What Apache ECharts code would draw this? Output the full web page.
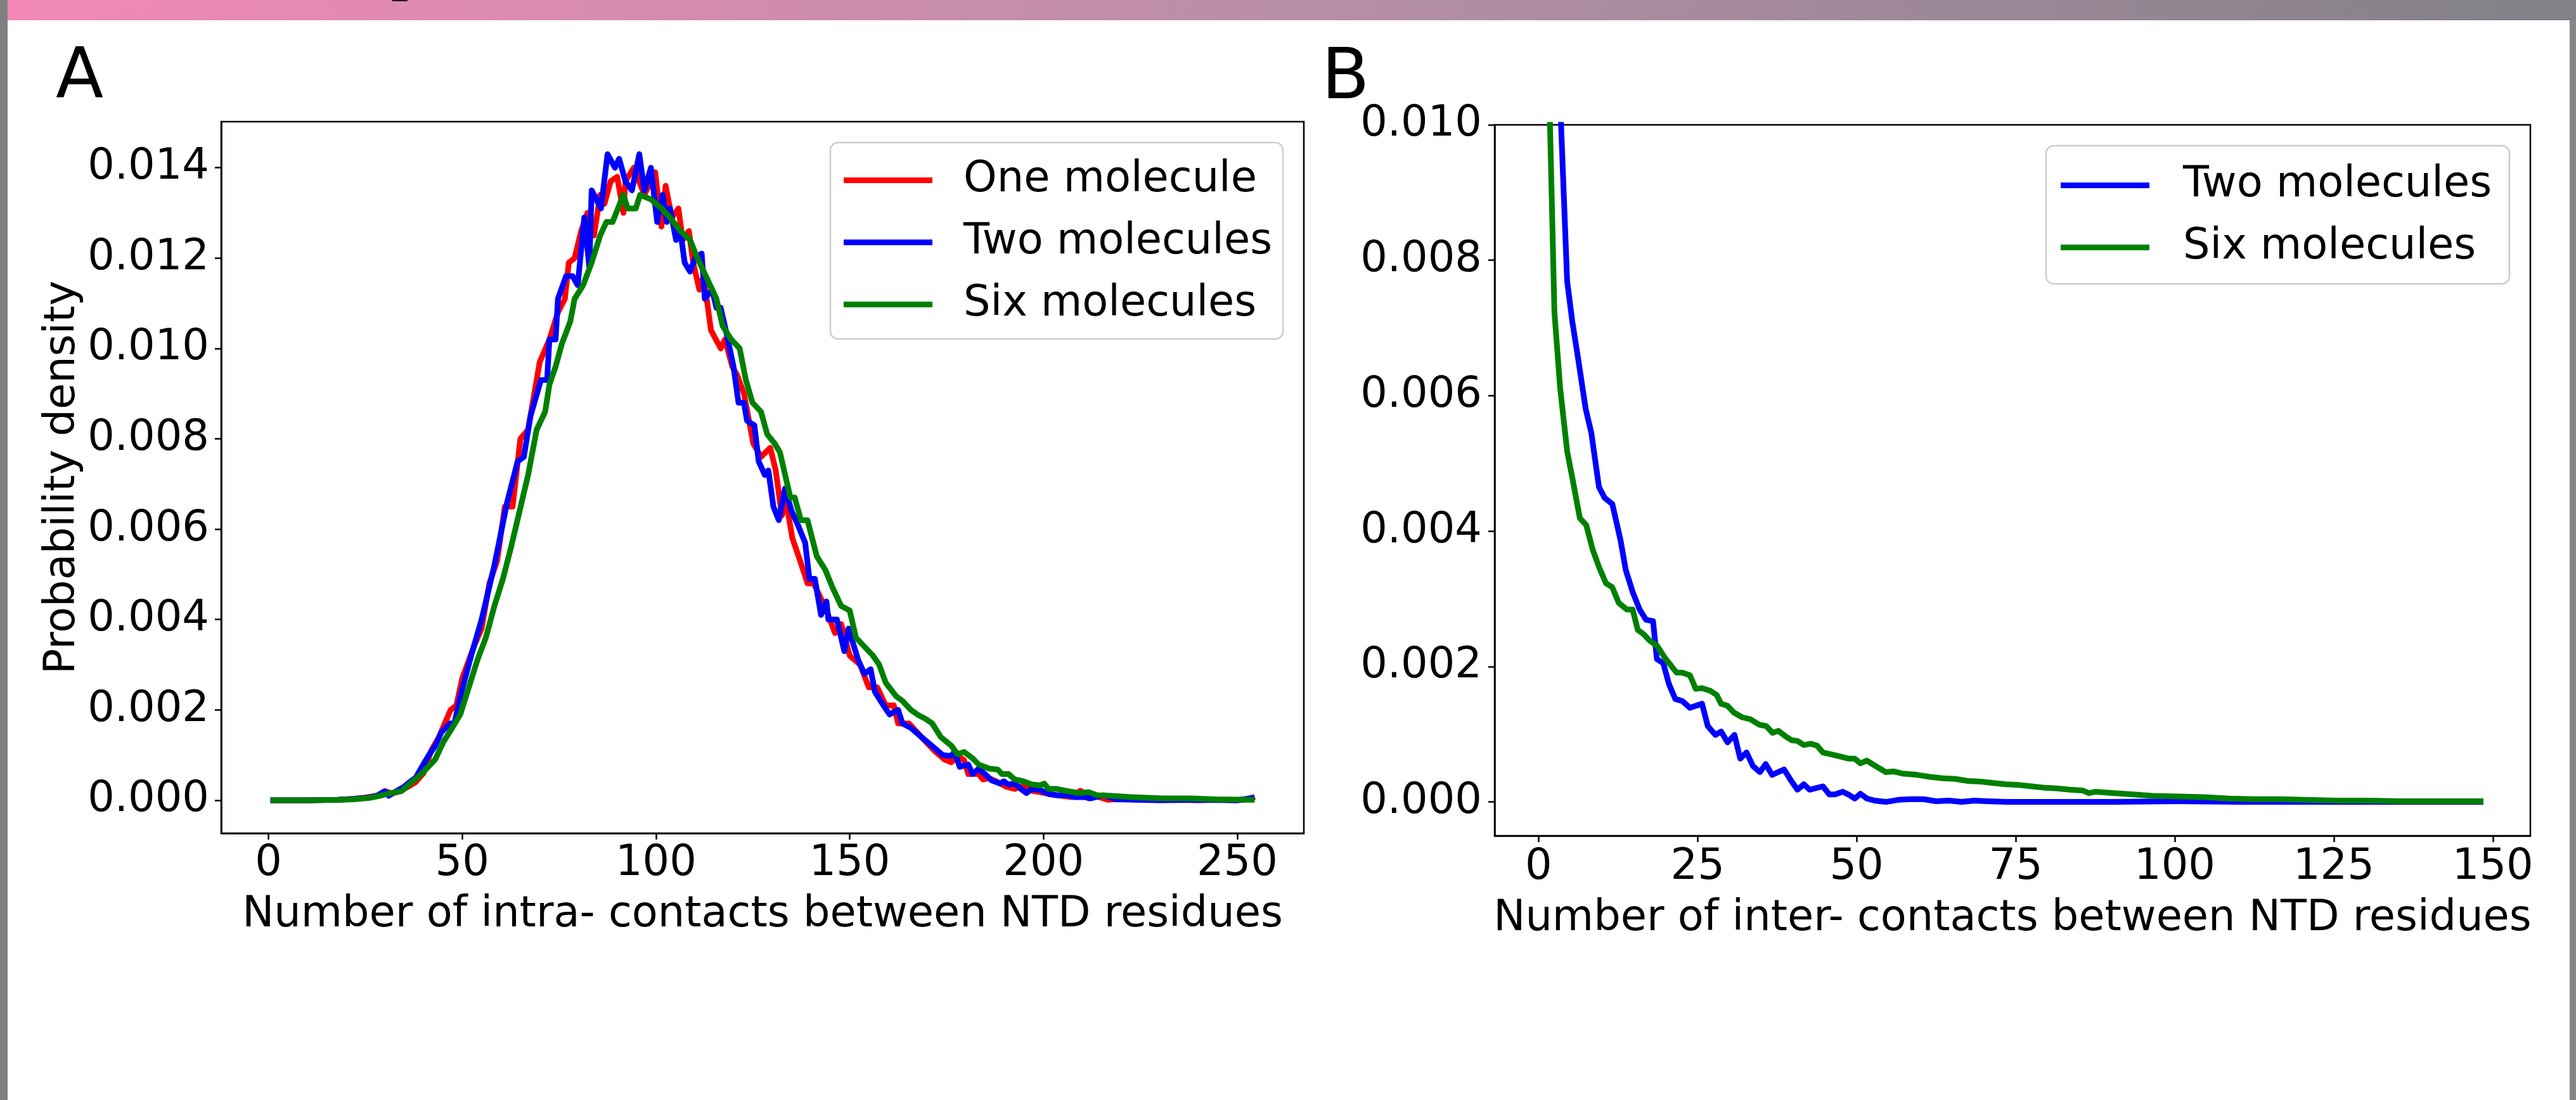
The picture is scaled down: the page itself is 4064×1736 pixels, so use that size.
<!DOCTYPE html>
<html><head><meta charset="utf-8">
<script src="https://cdn.jsdelivr.net/npm/echarts@6/dist/echarts.min.js"></script>
<style>html,body{margin:0;padding:0;background:#fff;}#c{width:4064px;height:1736px;}</style>
</head><body><div id="c"></div>
<script>
// ---------- data (x = number of contacts, y = probability density) ----------
const intraOne = [[0.5,0],[10,0],[18,0.00001],[22,0.00003],[25,0.00006],[28,0.0001],[30,0.0002],[32,0.00015],[34,0.0002],[36,0.0003],[38,0.0004],[40,0.0006],[42,0.0011],[44,0.0014],[47,0.0020],[48.5,0.0021],[50,0.0027],[53,0.0034],[55,0.0038],[57,0.0048],[59,0.0053],[61,0.0065],[63,0.0065],[65,0.0080],[67,0.0082],[68,0.0087],[70,0.0097],[72.5,0.0102],[74.7,0.0108],[76.5,0.0111],[77.5,0.0119],[79,0.0120],[80.7,0.0126],[82.3,0.0130],[84,0.0125],[85.6,0.0134],[86.7,0.0132],[88.3,0.0137],[90,0.0138],[91.6,0.0130],[92.1,0.0137],[94.3,0.0140],[97,0.0134],[99.8,0.0139],[101.4,0.0127],[102.5,0.0136],[104.1,0.0129],[105.8,0.0131],[106.9,0.0124],[108.5,0.0126],[109.6,0.0119],[111.2,0.0113],[112.3,0.0116],[114.2,0.0104],[116.7,0.0100],[117.8,0.0102],[119.7,0.0096],[121,0.0094],[122.7,0.0090],[125.1,0.0079],[127.1,0.0076],[129.5,0.0078],[130.9,0.0073],[132.5,0.0063],[133.6,0.0066],[135.2,0.0058],[137.2,0.0053],[139.1,0.0048],[140.7,0.0048],[144,0.0042],[146.2,0.0037],[147.8,0.0039],[150,0.0032],[152.7,0.0030],[154.9,0.0025],[157.1,0.0025],[159.3,0.0021],[161.4,0.0021],[162.5,0.0017],[165.3,0.0017],[168.5,0.0014],[171.8,0.0011],[174.5,0.0009],[176.2,0.00084],[177.8,0.00098],[179.5,0.00089],[180.6,0.00058],[183.3,0.00058],[184.4,0.00046],[186,0.00049],[188.2,0.0004],[190.4,0.0003],[192.6,0.00025],[194.8,0.00032],[197,0.00021],[199.1,0.00018],[201.3,0.00014],[203.5,0.00011],[207.3,0.00007],[209.5,0.00021],[211.7,0.0001],[214.4,0.00007],[216.6,0.00001],[220,0.00003],[225,0.00001],[230,0.00002],[235,0.00001],[240,0],[245,0.00001],[250,0],[253,0.00002],[254.5,0.00008]];

const intraTwo = [[0.5,0],[10,0],[18,0.00001],[22,0.00003],[26,0.00006],[28,0.0001],[30,0.0002],[31,0.0001],[33,0.0002],[35,0.0003],[36.4,0.0004],[38,0.0005],[40,0.0008],[41.4,0.0010],[43,0.0012],[44.6,0.0015],[46.8,0.0017],[48,0.0017],[49.5,0.0023],[52.3,0.0032],[55,0.0040],[58.3,0.0052],[61.6,0.0066],[64.3,0.0075],[65.9,0.0076],[67.6,0.0085],[70.3,0.0093],[71.9,0.0093],[72.5,0.0102],[74.1,0.0102],[74.7,0.0111],[76.8,0.0116],[78.5,0.0116],[79.8,0.0114],[81.5,0.0129],[82.8,0.0118],[83.4,0.0135],[85.8,0.0131],[87.5,0.0143],[89.4,0.0140],[90.5,0.0142],[92.1,0.0137],[93.8,0.0135],[95.7,0.0143],[97,0.0135],[98.7,0.0140],[100.3,0.0128],[101.7,0.0134],[102.8,0.0128],[103.6,0.0131],[105.2,0.0124],[106.3,0.0126],[107.4,0.0119],[108.8,0.0117],[110.1,0.0120],[111.8,0.0121],[112.6,0.0111],[114.5,0.0113],[115.6,0.0109],[116.7,0.0109],[118.3,0.0103],[120,0.0096],[121.3,0.0088],[122.7,0.0088],[123.5,0.0084],[125.4,0.0083],[126.5,0.0075],[128.1,0.0072],[129,0.0073],[130.3,0.0065],[131.7,0.0062],[133.3,0.0069],[135,0.0064],[136.6,0.0061],[138.5,0.0057],[139.6,0.0049],[141,0.0049],[142.6,0.0041],[144,0.0044],[144.5,0.0040],[146.7,0.0040],[148.6,0.0033],[149.7,0.0038],[152.2,0.0031],[153.8,0.0028],[155.4,0.0029],[156.5,0.0024],[158.7,0.0021],[160.3,0.0019],[162.5,0.0020],[163.6,0.0017],[165.8,0.0016],[168.5,0.0014],[171.3,0.0012],[174,0.0010],[176.2,0.00098],[177,0.00107],[178.4,0.00074],[180.6,0.00079],[181.7,0.00058],[183.3,0.0007],[184.9,0.00058],[186.6,0.00044],[188.8,0.00037],[189.8,0.00042],[190.9,0.00035],[192.6,0.00037],[194.2,0.00025],[195.6,0.00016],[197,0.00025],[199.1,0.00023],[201.3,0.00014],[203.5,0.00011],[206.2,0.00011],[207.9,0.00007],[210.6,0.00007],[212,0.00004],[215.5,0.00011],[218.8,0.00002],[225,0.00001],[230,0],[240,0.00001],[250,0],[254.5,0.00006]];

const intraSix = [[0.5,0],[10,0],[18,0.00001],[22,0.00002],[26,0.00005],[28.8,0.0001],[31,0.00015],[34.3,0.0002],[37,0.0004],[39.7,0.0006],[43,0.0009],[45.2,0.0013],[47.4,0.0016],[49.5,0.0019],[51.7,0.0025],[53.9,0.0031],[56.1,0.0036],[58.3,0.0043],[60.5,0.0049],[62.6,0.0056],[64.8,0.0064],[67,0.0072],[69.2,0.0082],[71.4,0.0086],[72.5,0.0092],[74.1,0.0096],[75.7,0.0101],[77.9,0.0106],[79,0.0111],[81.2,0.0114],[83.4,0.0119],[85.6,0.0125],[87.2,0.0128],[88.8,0.0128],[91.6,0.0134],[92.7,0.0131],[94.8,0.0131],[95.9,0.0134],[98.7,0.0133],[101.4,0.0131],[103.6,0.0129],[106.3,0.0126],[108.8,0.0124],[110.7,0.0120],[112.9,0.0116],[115.6,0.0111],[117.2,0.0105],[119.4,0.0102],[121.6,0.0100],[123.2,0.0093],[124.9,0.0088],[127.1,0.0086],[128.7,0.0081],[130.6,0.0079],[132,0.0077],[133.6,0.0071],[134.7,0.0067],[135.8,0.0067],[137.4,0.0062],[139.1,0.0062],[141.5,0.0054],[143.7,0.0051],[145.6,0.0047],[147.8,0.0043],[150,0.0042],[151.6,0.0036],[153.8,0.0034],[156,0.0032],[157.6,0.0030],[159.3,0.0026],[162,0.0023],[163.6,0.0022],[165.8,0.0020],[167.4,0.0019],[169.6,0.0018],[171.3,0.0017],[173.5,0.0014],[176.2,0.00121],[177.8,0.00102],[179.5,0.00107],[181.7,0.00093],[183.3,0.00079],[186,0.0007],[188.2,0.00068],[189.3,0.00058],[191,0.00058],[192.6,0.00046],[194.8,0.00042],[197,0.00035],[199.1,0.00033],[200.2,0.00037],[201.3,0.00025],[203.5,0.00025],[205.7,0.00021],[209,0.00016],[211.7,0.00018],[213.9,0.00011],[217.1,0.0001],[222.6,0.00007],[230.8,0.00004],[237.9,0.00004],[244.4,0.00002],[254.5,0.00001]];

const interTwo = [[0.5,0.09],[1.5,0.035],[2.5,0.018],[3.5,0.0101],[4.5,0.00769],[5.3,0.0071],[6.3,0.0065],[7.4,0.00581],[8.3,0.00545],[9.5,0.00465],[10.4,0.00449],[11.6,0.0044],[12.9,0.00386],[13.7,0.00343],[14.8,0.0031],[15.9,0.00284],[16.9,0.00269],[18.0,0.00267],[18.6,0.00211],[19.6,0.00205],[20.5,0.00174],[21.5,0.00152],[22.6,0.00149],[23.8,0.00139],[25.7,0.00145],[26.6,0.00112],[27.8,0.00099],[28.7,0.00104],[29.7,0.00088],[30.8,0.00099],[31.7,0.00064],[32.7,0.00073],[33.7,0.00053],[34.8,0.00044],[35.7,0.00056],[36.7,0.0004],[38.6,0.00048],[39.8,0.0003],[40.7,0.00018],[41.7,0.00026],[42.6,0.00018],[44.7,0.00023],[45.7,0.00011],[46.6,0.00011],[47.8,0.00015],[48.7,0.00011],[49.7,0.00005],[50.6,0.00012],[51.6,0.00005],[52.8,0.00002],[54.6,0],[56.5,0.00003],[58.5,0.00004],[60.5,0.00004],[62.5,0.00001],[64.5,0.00002],[66.5,0],[68.5,0.00002],[70.5,0.00001],[73.5,0],[80.5,0],[90.5,0],[100.5,0.00001],[110.5,0],[120.5,0],[130.5,0],[140.5,0],[148.5,0]];

const interSix = [[0.5,0.05],[1.5,0.0112],[2.5,0.00723],[3.4,0.00611],[4.5,0.00518],[5.3,0.00479],[6.5,0.00419],[7.5,0.00409],[8.5,0.00373],[9.5,0.00347],[10.6,0.00323],[11.6,0.00317],[12.6,0.00294],[13.9,0.00284],[14.8,0.00284],[15.6,0.00254],[16.5,0.00248],[17.5,0.00238],[18.6,0.00231],[20.0,0.00211],[21.7,0.00191],[22.6,0.00191],[23.8,0.00187],[24.7,0.00167],[25.7,0.00168],[27.0,0.00164],[28.0,0.00158],[28.7,0.00145],[29.7,0.00142],[30.7,0.00132],[32.0,0.00125],[33.3,0.00122],[34.7,0.00114],[35.8,0.00112],[36.8,0.00102],[37.7,0.00105],[38.8,0.00097],[39.8,0.00091],[40.7,0.0009],[41.7,0.00084],[42.8,0.00086],[43.8,0.00083],[44.7,0.00073],[46.6,0.00069],[48.7,0.00064],[49.7,0.00064],[50.6,0.00057],[51.6,0.00061],[52.8,0.00054],[54.6,0.00044],[55.8,0.00045],[57.1,0.00042],[59.5,0.0004],[61.5,0.00037],[63.5,0.00035],[65.5,0.00034],[67.5,0.00031],[69.5,0.0003],[71.5,0.00028],[73.5,0.00026],[75.5,0.00025],[77.5,0.00023],[79.5,0.00021],[81.5,0.0002],[83.5,0.00018],[85.5,0.00017],[86.5,0.00013],[87.5,0.00015],[90.5,0.00013],[93.5,0.00011],[96.5,0.00009],[100.5,0.00008],[104.5,0.00007],[108.5,0.00005],[112.5,0.00004],[116.5,0.00004],[120.5,0.00003],[125.5,0.00002],[130.5,0.00002],[135.5,0.00001],[140.5,0.00001],[148.5,0.00001]];

const seriesNames = ['One molecule', 'Two molecules', 'Six molecules'];
const intraXTicks = [0, 50, 100, 150, 200, 250];
const intraYTicks = [0, 0.002, 0.004, 0.006, 0.008, 0.010, 0.012, 0.014];
const interXTicks = [0, 25, 50, 75, 100, 125, 150];
const interYTicks = [0, 0.002, 0.004, 0.006, 0.008, 0.010];
const xTitleA = 'Number of intra- contacts between NTD residues';
const xTitleB = 'Number of inter- contacts between NTD residues';
const yTitle = 'Probability density';

// ---------- chart ----------
const FONT = 'DejaVu Sans';
const FS = 67;
const chart = echarts.init(document.getElementById('c'), null, {renderer: 'canvas', width: 4064, height: 1736});

function xAxisCfg(grid, min, max, ticks, name, nameGap, margin) {
  return {
    type: 'value', gridIndex: grid, min: min, max: max,
    name: name, nameLocation: 'middle', nameGap: nameGap,
    nameTextStyle: {fontFamily: FONT, fontSize: FS, color: '#000'},
    axisLine: {show: true, onZero: false, lineStyle: {color: '#000', width: 2.5}},
    axisTick: {show: true, customValues: ticks, length: 10, lineStyle: {color: '#000', width: 2.5}},
    axisLabel: {customValues: ticks, fontFamily: FONT, fontSize: FS, color: '#000', margin: margin,
                formatter: v => String(Math.round(v))},
    splitLine: {show: false}
  };
}
function yAxisCfg(grid, min, max, ticks, name, margin) {
  return {
    type: 'value', gridIndex: grid, min: min, max: max,
    name: name, nameLocation: 'middle', nameGap: 216, nameRotate: 90,
    nameTextStyle: {fontFamily: FONT, fontSize: FS, color: '#000'},
    axisLine: {show: true, onZero: false, lineStyle: {color: '#000', width: 2.5}},
    axisTick: {show: true, customValues: ticks, length: 10, lineStyle: {color: '#000', width: 2.5}},
    axisLabel: {customValues: ticks, fontFamily: FONT, fontSize: FS, color: '#000', margin: margin,
                formatter: v => v.toFixed(3)},
    splitLine: {show: false}
  };
}
function lineSeries(name, data, color, xi) {
  return {
    type: 'line', name: name, data: data, xAxisIndex: xi, yAxisIndex: xi,
    showSymbol: false, symbol: 'none', silent: true, clip: true, z: 2,
    color: color,
    lineStyle: {color: color, width: 9, join: 'round', cap: 'butt'},
    emphasis: {disabled: true}
  };
}
const legendText = pad => ({fontFamily: FONT, fontSize: FS, color: '#000', padding: [0, 0, 0, pad]});

const option = {
  animation: false,
  backgroundColor: '#ffffff',
  grid: [
    {left: 349, top: 192, width: 1708, height: 1123, show: true, borderColor: '#000', borderWidth: 2.5, containLabel: false},
    {left: 2358, top: 197, width: 1634, height: 1122, show: true, borderColor: '#000', borderWidth: 2.5, containLabel: false}
  ],
  xAxis: [
    xAxisCfg(0, -12.2, 267.2, intraXTicks, xTitleA, 96, 15),
    xAxisCfg(1, -6.9, 155.9, interXTicks, xTitleB, 98, 17)
  ],
  yAxis: [
    yAxisCfg(0, -0.00073, 0.01502, intraYTicks, yTitle, 19),
    yAxisCfg(1, -0.0005, 0.010, interYTicks, '', 20)
  ],
  legend: [
    {data: seriesNames, orient: 'vertical', left: 1331, top: 251, padding: 0,
     itemWidth: 140, itemHeight: 9, itemGap: 31, icon: 'rect', selectedMode: false,
     textStyle: legendText(44), z: 10},
    {data: seriesNames.slice(1), orient: 'vertical', left: 3251, top: 259, padding: 0,
     itemWidth: 140, itemHeight: 9, itemGap: 31, icon: 'rect', selectedMode: false,
     textStyle: legendText(48), z: 10}
  ],
  series: [
    lineSeries(seriesNames[0], intraOne, '#ff0000', 0),
    lineSeries(seriesNames[1], intraTwo, '#0000ff', 0),
    lineSeries(seriesNames[2], intraSix, '#008000', 0),
    lineSeries(seriesNames[1], interTwo, '#0000ff', 1),
    lineSeries(seriesNames[2], interSix, '#008000', 1)
  ],
  graphic: [
    {type: 'rect', z: 1, silent: true, shape: {x: 0, y: 0, width: 12, height: 1736}, style: {fill: '#7f8084'}},
    {type: 'rect', z: 1, silent: true, shape: {x: 4054, y: 0, width: 10, height: 1736}, style: {fill: '#85858a'}},
    {type: 'rect', z: 1, silent: true, shape: {x: 12, y: 0, width: 4052, height: 32},
     style: {fill: new echarts.graphic.LinearGradient(0, 0, 1, 0, [
       {offset: 0, color: '#f288b7'}, {offset: 0.5, color: '#b98fa8'}, {offset: 1, color: '#818186'}])}},
    {type: 'text', z: 2, silent: true, x: 617, y: -50,
     style: {text: 'p', font: '110px "Liberation Serif"', fill: '#1a1a1a', align: 'left', verticalAlign: 'middle'}},
    {type: 'text', z: 5, silent: true, x: 88, y: 125,
     style: {text: 'A', font: '110px "DejaVu Sans"', fill: '#000', align: 'left', verticalAlign: 'middle'}},
    {type: 'text', z: 5, silent: true, x: 2085, y: 126,
     style: {text: 'B', font: '110px "DejaVu Sans"', fill: '#000', align: 'left', verticalAlign: 'middle'}},
    {type: 'rect', z: 5, silent: true, shape: {x: 1310, y: 225, width: 714, height: 310, r: 12},
     style: {fill: 'rgba(255,255,255,0.8)', stroke: '#cccccc', lineWidth: 2.5}},
    {type: 'rect', z: 5, silent: true, shape: {x: 3228, y: 230, width: 731, height: 218, r: 12},
     style: {fill: 'rgba(255,255,255,0.8)', stroke: '#cccccc', lineWidth: 2.5}}
  ]
};
chart.setOption(option);
</script>
</body></html>
